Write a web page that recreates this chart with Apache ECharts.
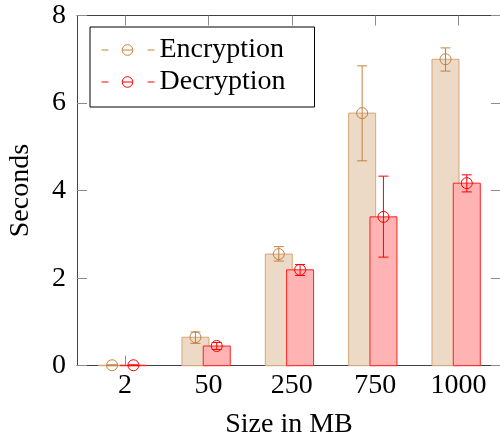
<!DOCTYPE html>
<html>
<head>
<meta charset="utf-8">
<script src="https://cdn.jsdelivr.net/npm/echarts@6/dist/echarts.min.js"></script>
<style>
html,body{margin:0;padding:0;background:#fff;}
#chart{width:500px;height:438px;}
</style>
</head>
<body>
<div id="chart"></div>
<script>
// ---- data ----
const sizes = ['2', '50', '250', '750', '1000'];
const encryption = [0.01, 0.65, 2.55, 5.77, 7.00];
const encryptionLow = [0.00, 0.51, 2.39, 4.68, 6.73];
const encryptionHigh = [0.02, 0.77, 2.72, 6.85, 7.26];
const decryption = [0.01, 0.45, 2.19, 3.40, 4.17];
const decryptionLow = [0.00, 0.37, 2.06, 2.48, 3.97];
const decryptionHigh = [0.02, 0.53, 2.31, 4.33, 4.36];
const yTicks = [0, 2, 4, 6, 8];

// ---- styles ----
const FONT = 'Liberation Serif';
const BAR_W = 27;
const ENC = {fill: '#ecd9c6', edge: '#d6a77a', mark: '#c4823f', offset: -13};
const DEC = {fill: '#ffb3b3', edge: '#ff2020', mark: '#ff0000', offset: 8.3};
const FRAME = '#404040';
const TICK = '#8c8c8c';

function makeData(v, lo, hi) {
  return v.map((y, i) => [i, y, lo[i], hi[i]]);
}

function renderer(st) {
  return function (params, api) {
    const x = api.value(0);
    const top = api.coord([x, api.value(1)]);
    const base = api.coord([x, 0]);
    const lo = api.coord([x, api.value(2)]);
    const hi = api.coord([x, api.value(3)]);
    const cx = top[0] + st.offset;
    const children = [
      {type: 'rect', shape: {x: cx - BAR_W / 2, y: top[1], width: BAR_W, height: base[1] - top[1]},
       style: {fill: st.fill, stroke: st.edge, lineWidth: 1}},
      {type: 'line', shape: {x1: cx, y1: lo[1], x2: cx, y2: hi[1]}, style: {stroke: st.mark, lineWidth: 1}},
      {type: 'line', shape: {x1: cx - 5, y1: lo[1], x2: cx + 5, y2: lo[1]}, style: {stroke: st.mark, lineWidth: 1}},
      {type: 'line', shape: {x1: cx - 5, y1: hi[1], x2: cx + 5, y2: hi[1]}, style: {stroke: st.mark, lineWidth: 1}},
      {type: 'circle', shape: {cx: cx, cy: top[1], r: 5.5}, style: {fill: 'none', stroke: st.mark, lineWidth: 1}}
    ];
    return {type: 'group', children: children};
  };
}

const ICON = 'path://M0,6 L7,6 M46,6 L53,6 M20.7,6 A5.3,5.3 0 1 1 31.3,6 A5.3,5.3 0 1 1 20.7,6 M21.5,6 L30.5,6';

const chart = echarts.init(document.getElementById('chart'), null, {renderer: 'canvas'});
chart.setOption({
  animation: false,
  backgroundColor: '#fff',
  textStyle: {fontFamily: FONT},
  grid: {left: 77, top: 15.5, width: 424, height: 350.2, containLabel: false, outerBoundsMode: 'none'},
  legend: {
    orient: 'vertical',
    left: 90, top: 27,
    padding: [7, 14, 9, 9],
    itemGap: 0,
    itemWidth: 53, itemHeight: 11,
    backgroundColor: '#fff',
    borderColor: '#000', borderWidth: 1, borderRadius: 0,
    textStyle: {fontFamily: FONT, fontSize: 28, color: '#000', width: 141, lineHeight: 32},
    selectedMode: false,
    data: [
      {name: 'Encryption', icon: ICON, itemStyle: {color: 'none', borderColor: ENC.mark, borderWidth: 1}},
      {name: 'Decryption', icon: ICON, itemStyle: {color: 'none', borderColor: DEC.mark, borderWidth: 1}}
    ]
  },
  xAxis: [{
    type: 'value', position: 'bottom', min: -0.577, max: 4.51,
    name: 'Size in MB', nameLocation: 'middle', nameGap: 45,
    nameTextStyle: {fontFamily: FONT, fontSize: 28, color: '#000'},
    axisLine: {show: true, onZero: false, lineStyle: {color: FRAME, width: 1}},
    axisTick: {show: true, inside: true, length: 10, customValues: [0, 1, 2, 3, 4], lineStyle: {color: TICK}},
    axisLabel: {show: true, margin: 6, customValues: [0, 1, 2, 3, 4], formatter: v => sizes[Math.round(v)],
      fontFamily: FONT, fontSize: 28, color: '#000'},
    splitLine: {show: false}
  }, {
    type: 'value', position: 'top', min: -0.577, max: 4.51,
    axisLine: {show: true, onZero: false, lineStyle: {color: FRAME, width: 1}},
    axisTick: {show: true, inside: true, length: 10, customValues: [0, 1, 2, 3, 4], lineStyle: {color: TICK}},
    axisLabel: {show: false},
    splitLine: {show: false}
  }],
  yAxis: [{
    type: 'value', position: 'left', min: 0, max: 8, interval: 2,
    name: 'Seconds', nameLocation: 'middle', nameGap: 42, nameRotate: 90,
    nameTextStyle: {fontFamily: FONT, fontSize: 28, color: '#000'},
    axisLine: {show: true, onZero: false, lineStyle: {color: FRAME, width: 1}},
    axisTick: {show: true, inside: true, length: 10, lineStyle: {color: TICK}},
    axisLabel: {show: true, margin: 11, fontFamily: FONT, fontSize: 28, color: '#000',
      formatter: v => String(yTicks.find(t => t === v) ?? v)},
    splitLine: {show: false}
  }, {
    type: 'value', position: 'right', min: 0, max: 8, interval: 2,
    axisLine: {show: true, onZero: false, lineStyle: {color: FRAME, width: 1}},
    axisTick: {show: true, inside: true, length: 10, lineStyle: {color: TICK}},
    axisLabel: {show: false},
    splitLine: {show: false}
  }],
  series: [{
    name: 'Encryption', type: 'custom', xAxisIndex: 0, yAxisIndex: 0,
    itemStyle: {color: ENC.mark},
    renderItem: renderer(ENC),
    data: makeData(encryption, encryptionLow, encryptionHigh),
    encode: {x: 0, y: [1, 2, 3]}
  }, {
    name: 'Decryption', type: 'custom', xAxisIndex: 0, yAxisIndex: 0,
    itemStyle: {color: DEC.mark},
    renderItem: renderer(DEC),
    data: makeData(decryption, decryptionLow, decryptionHigh),
    encode: {x: 0, y: [1, 2, 3]}
  }]
});
</script>
</body>
</html>
